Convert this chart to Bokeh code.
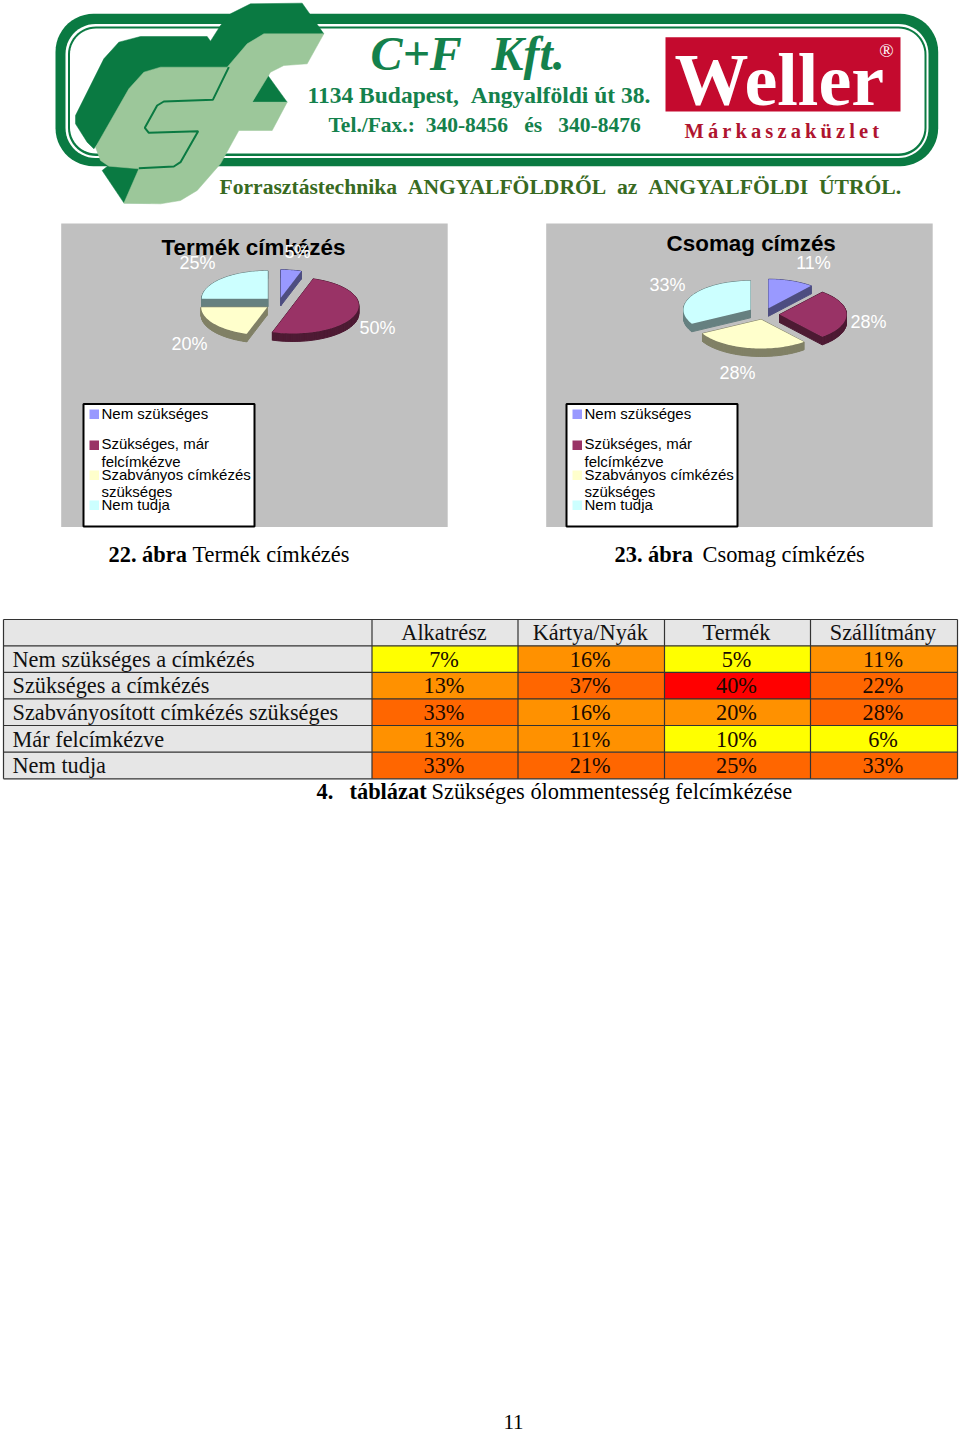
import numpy as np
from bokeh.plotting import figure
from bokeh.embed import file_html
from bokeh.resources import INLINE
from bokeh.core.properties import value
from bokeh.models import Range1d

# ---------- data ----------
pie1_title = "Termék címkézés"
pie2_title = "Csomag címzés"
pie1_values = [5, 50, 20, 25]
pie2_values = [11, 28, 28, 33]
legend_lines = [["Nem szükséges"], ["Szükséges, már", "felcímkézve"],
                ["Szabványos címkézés", "szükséges"], ["Nem tudja"]]
table_columns = ["Alkatrész", "Kártya/Nyák", "Termék", "Szállítmány"]
table_rows = ["Nem szükséges a címkézés", "Szükséges a címkézés",
              "Szabványosított címkézés szükséges", "Már felcímkézve", "Nem tudja"]
alkatresz = [7, 13, 33, 13, 33]
kartya = [16, 37, 16, 11, 21]
termek = [5, 40, 20, 10, 25]
szallitmany = [11, 22, 28, 6, 33]
caption1 = ("22. ábra", "Termék címkézés")
caption2 = ("23. ábra", "Csomag címkézés")
caption3 = ("4.", "táblázat", "Szükséges ólommentesség felcímkézése")
page_number = "11"

# ---------- styles / layout ----------
FACE = ["#9999ff", "#993366", "#ffffcc", "#ccffff"]
SIDE = ["#4d4d80", "#4d1a33", "#808066", "#668080"]
GREEN = "#0a7a42"
LIGHT = "#9cc79a"
SERIF = value("Liberation Serif")
SANS = value("Liberation Sans")

p = figure(width=960, height=1432, output_backend="svg", toolbar_location=None,
           x_range=Range1d(0, 960), y_range=Range1d(1432, 0), min_border=0,
           margin=(0, 0, 0, 0))
p.axis.visible = False
p.grid.visible = False
p.outline_line_color = None
p.background_fill_color = "white"
p.border_fill_color = "white"


def txt(x, y, s, size, color="black", font=SERIF, style="normal", align="left", base="baseline"):
    if base == "baseline":
        y, base = y - 0.30 * size, "middle"
    p.text([x - 1], [y - 1], text=[s], text_font=font, text_font_size=f"{size}px", text_color=color,
           text_font_style=style, text_align=align, text_baseline=base)


def rrect(x0, y0, x1, y1, r, color):
    t = np.linspace(0, np.pi / 2, 14)
    xs = np.concatenate([x1 - r + r * np.sin(t), x1 - r + r * np.cos(t), x0 + r - r * np.sin(t), x0 + r - r * np.cos(t)])
    ys = np.concatenate([y0 + r - r * np.cos(t), y1 - r + r * np.sin(t), y1 - r + r * np.cos(t), y0 + r - r * np.sin(t)])
    p.patch(xs, ys, fill_color=color, line_color=None)


def poly(pts, color, ox=50, oy=0, k=3):
    a = np.array(pts, float)
    p.patch(ox + a[:, 0] / k, oy + a[:, 1] / k, fill_color=color, line_color=color, line_width=0.5)


# ---------- logo ----------
rrect(55, 13.3, 937.7, 165.7, 38, GREEN)
rrect(65, 23.5, 928, 157.5, 30, "white")
rrect(67.5, 26, 926, 155.5, 28, GREEN)
rrect(69.5, 28, 924, 153, 26, "white")

poly([(510, 75), (540, 40), (600, 10), (755, 8), (820, 100), (650, 110), (590, 150), (540, 210), (320, 210),
      (130, 445), (110, 425), (75, 370), (75, 345), (160, 175), (205, 125), (270, 108), (470, 108), (480, 122)], GREEN)
poly([(650, 222), (710, 305), (605, 305)], GREEN)
poly([(155, 510), (220, 607), (300, 607), (300, 490), (180, 490)], GREEN)
poly([(135, 440), (235, 265), (280, 215), (330, 200), (530, 200), (590, 130), (640, 100), (820, 100), (770, 190),
      (700, 195), (660, 215), (605, 305), (710, 305), (665, 390), (565, 390), (510, 490), (440, 570), (390, 600),
      (330, 610), (220, 608), (265, 505), (175, 497), (150, 480)], LIGHT)
inner = np.array([(535, 200), (487, 298), (340, 303), (320, 315), (283, 382), (295, 397), (443, 392), (390, 485),
                  (370, 498), (265, 503)], float)
p.line(50 + inner[:, 0] / 3, inner[:, 1] / 3, line_color=GREEN, line_width=2)

NB = "\u00a0"
txt(371, 68, "C+F", 48, "#14814c", style="bold italic")
txt(492, 68, "Kft.", 48, "#14814c", style="bold italic")
txt(308, 103, f"1134 Budapest,{NB}{NB}Angyalföldi út 38.", 23.5, "#14814c", style="bold")
txt(329, 132, f"Tel./Fax.:{NB}{NB}340-8456{NB}{NB}{NB}és{NB}{NB}{NB}340-8476", 21.5, "#14814c", style="bold")
txt(220, 194, f"Forrasztástechnika{NB}{NB}ANGYALFÖLDRŐL{NB}{NB}az{NB}{NB}ANGYALFÖLDI{NB}{NB}ÚTRÓL.", 21.6, "#386a22", style="bold")
p.quad(left=[665], right=[900], top=[36.7], bottom=[111], fill_color="#c40a2e", line_color=None)
txt(675, 103, "Weller", 74, "white", style="bold")
txt(887, 57, "®", 19, "white", align="center")
txt(685, 138, "M\u2009á\u2009r\u2009k\u2009a\u2009s\u2009z\u2009a\u2009k\u2009ü\u2009z\u2009l\u2009e\u2009t", 20.5, "#b0142f", style="bold")


# ---------- pies ----------
def draw_pie(vals, centers, rx, ry, depth):
    edges = np.concatenate([[0], np.cumsum(vals)]) / sum(vals) * 2 * np.pi
    order = sorted(range(len(vals)), key=lambda i: centers[i][1])
    for i in order:
        cx, cy = centers[i]
        t = np.linspace(edges[i], edges[i + 1], 60)
        xs = np.concatenate([[cx], cx + rx * np.sin(t)])
        ys = np.concatenate([[cy], cy - ry * np.cos(t)])
        qx, qy = [], []
        for j in range(len(xs)):
            k = (j + 1) % len(xs)
            qx.append([xs[j], xs[k], xs[k], xs[j]])
            qy.append([ys[j], ys[k], ys[k] + depth, ys[j] + depth])
        p.patches(qx, qy, fill_color=SIDE[i], line_color=SIDE[i], line_width=1)
        p.patch(xs, ys, fill_color=FACE[i], line_color=None)


def draw_panel(x0, legx0, title, tx, ty, tsize, vals, centers, rx, ry, lab_pos):
    p.quad(left=[x0], right=[x0 + 386.5], top=[223], bottom=[526.5], fill_color="#c0c0c0", line_color=None)
    txt(tx, ty, title, tsize, style="bold", font=SANS, align="center", base="middle")
    draw_pie(vals, centers, rx, ry, 8)
    for v, (lx, ly) in zip(vals, lab_pos):
        txt(lx, ly, f"{v}%", 18, "white", font=SANS, align="center", base="middle")
    p.quad(left=[legx0], right=[legx0 + 171], top=[403.5], bottom=[526], fill_color="white",
           line_color="black", line_width=2)
    sy = [409, 440, 470, 500]
    ty_lines = [[413.5], [443.5, 461.5], [474.5, 491.5], [504.5]]
    for i, lines in enumerate(legend_lines):
        p.quad(left=[legx0 + 6], right=[legx0 + 15.5], top=[sy[i]], bottom=[sy[i] + 9.5],
               fill_color=FACE[i], line_color=None)
        for s, y in zip(lines, ty_lines[i]):
            txt(legx0 + 19, y, s, 15, font=SANS, base="middle")


draw_panel(60.7, 83, pie1_title, 254, 248, 22.4, pie1_values,
           [(280.3, 297.3), (292.3, 305), (266.7, 306.7), (267.3, 298.3)], 66, 28,
           [(298, 252), (378, 328), (190, 344), (198, 263)])
draw_panel(545.7, 566, pie2_title, 751.7, 244, 22.4, pie2_values,
           [(768, 307.7), (779, 314), (760.7, 319), (750, 309.3)], 67, 29,
           [(814, 263), (869, 322), (738, 373), (668, 285)])

txt(109, 562, caption1[0], 22.4, style="bold")
txt(193, 562, caption1[1], 22.4)
txt(615, 562, caption2[0], 22.4, style="bold")
txt(703, 562, caption2[1], 22.4)

# ---------- table ----------
col_x = [3, 371.5, 517.5, 664, 810, 957]
row_y = [619, 645.3, 671.8, 698.4, 725, 751.7, 778.3]
cols = [alkatresz, kartya, termek, szallitmany]


def heat(v):
    return "#ffff00" if v <= 10 else "#ff9100" if v <= 20 else "#ff6600" if v < 40 else "#ff0000"


GRID = "#333333"
p.quad(left=[col_x[0]], right=[col_x[-1]], top=[row_y[0]], bottom=[row_y[-1]], fill_color="#e6e6e6", line_color=None)
for c, col in enumerate(cols):
    for r, v in enumerate(col):
        p.quad(left=[col_x[c + 1]], right=[col_x[c + 2]], top=[row_y[r + 1]], bottom=[row_y[r + 2]],
               fill_color=heat(v), line_color=None)
for y in row_y:
    p.line([col_x[0], col_x[-1]], [y, y], line_color=GRID, line_width=1.2)
for x in col_x:
    p.line([x, x], [row_y[0], row_y[-1]], line_color=GRID, line_width=1.2)
for c, col in enumerate(cols):
    cx = (col_x[c + 1] + col_x[c + 2]) / 2
    for r, v in enumerate(col):
        txt(cx, row_y[r + 2] - 5.5, f"{v}%", 22.3, "#1a0a00", align="center")
    txt(cx, row_y[1] - 5.5, table_columns[c], 22.3, "#111111", align="center")
for r, s in enumerate(table_rows):
    txt(13, row_y[r + 2] - 5.5, s, 22.3, "#111111")

txt(317, 799, caption3[0], 22.4, style="bold")
txt(350, 799, caption3[1], 22.4, style="bold")
txt(432, 799, caption3[2], 22.4)
txt(514, 1429, page_number, 21, align="center")

open("out.html", "w").write(file_html(p, INLINE))
